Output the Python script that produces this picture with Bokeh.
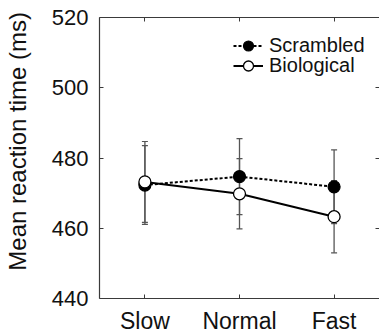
from bokeh.plotting import figure
from bokeh.models import (Range1d, FixedTicker, LinearAxis, ColumnDataSource, Whisker,
                          TeeHead, Legend, LegendItem)
from bokeh.embed import file_html
from bokeh.resources import INLINE

categories = ["Slow", "Normal", "Fast"]
scrambled_mean = [472.3, 474.7, 471.8]
scrambled_err = [11.2, 10.8, 10.5]
biological_mean = [473.2, 469.8, 463.3]
biological_err = [11.5, 10.0, 10.3]
y_ticks = [440, 460, 480, 500, 520]

xs = list(range(1, len(categories) + 1))
FONT = "Liberation Sans"
SPINE = "#3a3a3a"

p = figure(width=379, height=336, output_backend="svg", toolbar_location=None,
           x_range=Range1d(0.52, 3.48), y_range=Range1d(440, 520),
           min_border_left=99, min_border_right=0, min_border_top=17, min_border_bottom=35,
           x_axis_location=None, y_axis_location=None)
p.grid.visible = False
p.outline_line_color = None
p.background_fill_color = "white"
p.border_fill_color = "white"

def make_axis(loc, labels=True, size="22px", line=True):
    ax = LinearAxis()
    if loc in ("left", "right"):
        ax.ticker = FixedTicker(ticks=y_ticks)
    else:
        ax.ticker = FixedTicker(ticks=xs)
        ax.major_label_overrides = {x: c for x, c in zip(xs, categories)}
    ax.major_tick_in = 4
    ax.major_tick_out = 0
    ax.minor_tick_line_color = None
    ax.major_tick_line_color = SPINE
    ax.axis_line_color = SPINE if line else None
    ax.axis_line_width = 1.2
    ax.major_label_text_font = FONT
    ax.major_label_text_color = "#111111"
    if labels:
        ax.major_label_text_font_size = size
    else:
        ax.major_label_text_font_size = "0px"
        ax.major_label_standoff = 0
    p.add_layout(ax, loc)
    return ax

yl = make_axis("left", size="22px")
yl.major_label_standoff = 11
# leading no-break spaces shift the (rotated) label upward, as in the original
yl.axis_label = "\u00a0" * 5 + "Mean reaction time (ms)"
yl.axis_label_text_font = FONT
yl.axis_label_text_font_size = "24px"
yl.axis_label_text_font_style = "normal"
yl.axis_label_text_color = "#111111"
yl.axis_label_standoff = 18
xb = make_axis("below", size="23px")
xb.major_label_standoff = 9
make_axis("right", labels=False, line=False)
make_axis("above", labels=False)

src_s = ColumnDataSource(dict(x=xs, y=scrambled_mean,
                              lo=[m - e for m, e in zip(scrambled_mean, scrambled_err)],
                              hi=[m + e for m, e in zip(scrambled_mean, scrambled_err)]))
src_b = ColumnDataSource(dict(x=xs, y=biological_mean,
                              lo=[m - e for m, e in zip(biological_mean, biological_err)],
                              hi=[m + e for m, e in zip(biological_mean, biological_err)]))

for src in (src_s, src_b):
    w = Whisker(base="x", upper="hi", lower="lo", source=src, line_color="#555555", line_width=1.3,
                upper_head=TeeHead(size=6, line_color="#555555", line_width=1.2),
                lower_head=TeeHead(size=6, line_color="#555555", line_width=1.2))
    p.add_layout(w)

ls = p.line("x", "y", source=src_s, line_color="black", line_width=2, line_dash="3 2")
lb = p.line("x", "y", source=src_b, line_color="black", line_width=2)
ms = p.scatter("x", "y", source=src_s, size=12, fill_color="black", line_color="black", line_width=1.2)
mb = p.scatter("x", "y", source=src_b, size=12, fill_color="white", line_color="black", line_width=1.3)

def add_legend(label, renderers, loc):
    lg = Legend(items=[LegendItem(label=label, renderers=renderers)],
                location=loc, border_line_color=None, background_fill_alpha=0,
                padding=0, margin=0, spacing=0, glyph_width=30, glyph_height=25,
                label_height=20, label_standoff=6,
                label_text_font=FONT, label_text_font_size="20px", label_text_color="#111111")
    p.add_layout(lg)

add_legend("Scrambled", [ls, ms], (134, 240))
add_legend("Biological", [lb, mb], (134, 220))

open("out.html", "w").write(file_html(p, INLINE))
